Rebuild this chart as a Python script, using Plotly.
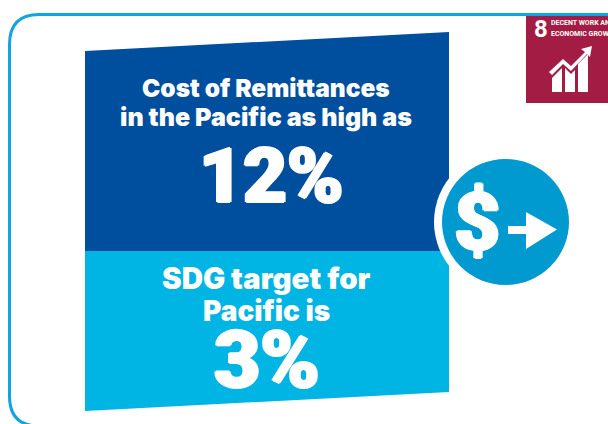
import plotly.graph_objects as go

HEADLINE_LINES = ["Cost of Remittances", "in the Pacific as high as"]
TARGET_LINES = ["SDG target for", "Pacific is"]
COST_VALUE = "12%"
TARGET_VALUE = "3%"
SDG_NUMBER = "8"
SDG_LINES = ["DECENT WORK AND", "ECONOMIC GROWTH"]
CURRENCY = "$"

DARK = "#004F9E"
LIGHT = "#00B4E4"
CIRCLE = "#0099D0"
BORDER = "#0FA5E3"
SDG = "#A21C44"
MAIN_FONT = "Inter"
TALL = "Roboto"

fig = go.Figure()
shapes = [
    dict(type="path", path="M39,14.5 H640 V426 H39 Q9.5,426 9.5,396 V44.5 Q9.5,14.5 39,14.5 Z",
         line=dict(color=BORDER, width=3), fillcolor="white"),
    dict(type="rect", x0=526, x1=610, y0=16, y1=103, fillcolor=SDG, line_width=0),
    dict(type="path", path="M85,51 L449,32 V251 H85 Z", fillcolor=DARK, line_width=0),
    dict(type="path", path="M85,251 H449 V392 L85,411 Z", fillcolor=LIGHT, line_width=0),
    dict(type="circle", x0=434, x1=576, y0=151, y1=293, fillcolor="white", line_width=0),
    dict(type="circle", x0=442, x1=569, y0=159, y1=285, fillcolor=CIRCLE, line_width=0),
    dict(type="path", path="M508,226 H526 V212 L557,229.5 L526,249 V234 H508 Z", fillcolor="white", line_width=0),
    # SDG icon
    dict(type="path", path="M552,78 L562,68 V92 H552 Z", fillcolor="white", line_width=0),
    dict(type="path", path="M565,68 L571,74 L575,70 V92 H565 Z", fillcolor="white", line_width=0),
    dict(type="path", path="M578,64 L588,54 V92 H578 Z", fillcolor="white", line_width=0),
    dict(type="path", path="M549,72 L563,59 L571,66 L585,52 L581,49 L592,46 L590,57 L587,54 L571,71 L563,64 L552,75 Z",
         fillcolor="white", line_width=0),
]
def label(x, y, t, size, family=MAIN_FONT, weight=900, anchor="center", shadow=None):
    f = dict(size=size, color="white", family=family, weight=weight)
    if shadow:
        f["shadow"] = shadow
    return dict(x=x, y=y, text=t, showarrow=False, xanchor=anchor, yanchor="middle", font=f)

HEAVY = "1.5px 0 0 white, -1.5px 0 0 white, 0 1px 0 white, 0 -1px 0 white"
ann = [
    label(266, 88, HEADLINE_LINES[0], 24.5),
    label(266, 117, HEADLINE_LINES[1], 25),
    label(271, 176, COST_VALUE, 76, family=TALL, shadow=HEAVY),
    label(266, 278, TARGET_LINES[0], 29.5),
    label(266, 311, TARGET_LINES[1], 28),
    label(267, 360, TARGET_VALUE, 80, family=TALL, shadow=HEAVY),
    label(477, 223, CURRENCY, 80, family=TALL, shadow=HEAVY),
    label(532, 29, SDG_NUMBER, 24, family=TALL, weight=700, anchor="left"),
    label(549, 23, SDG_LINES[0], 7, family=TALL, weight=700, anchor="left"),
    label(549, 34, SDG_LINES[1], 7, family=TALL, weight=700, anchor="left"),
]
fig.update_layout(
    width=608, height=424, margin=dict(l=0, r=0, t=0, b=0),
    paper_bgcolor="white", plot_bgcolor="white", showlegend=False,
    xaxis=dict(range=[0, 608], visible=False, fixedrange=True),
    yaxis=dict(range=[424, 0], visible=False, fixedrange=True),
    shapes=shapes, annotations=ann,
)
fig.write_html("out.html", config=dict(displayModeBar=False),
               post_script="document.body.style.margin='0';document.documentElement.style.overflow='hidden';")
